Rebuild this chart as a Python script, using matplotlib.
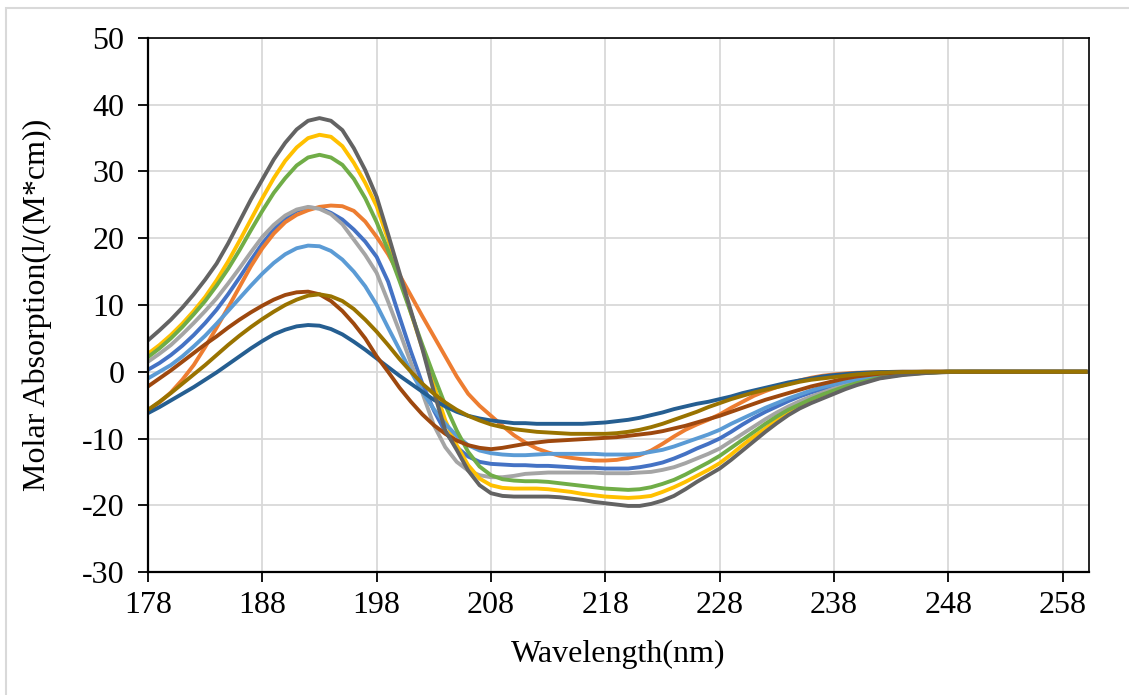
import matplotlib.pyplot as plt
from matplotlib.patches import Rectangle

plt.rcParams['font.family'] = ['Liberation Serif', 'DejaVu Serif']
plt.rcParams['axes.unicode_minus'] = False

# wavelengths (nm): 1 nm steps up to 240, then 2 nm steps
wavelength = list(range(178, 241)) + list(range(242, 262, 2))

# series
s_darkgray = [4.7, 6.2, 7.8, 9.6, 11.6, 13.8, 16.2, 19.2, 22.5, 25.8,
              28.8, 31.8, 34.3, 36.3, 37.6, 38, 37.6, 36.2, 33.5, 30.2,
              26.2, 20.6, 14.8, 9.1, 3.4, -3, -8.8, -11.7, -14.8, -17,
              -18.2, -18.6, -18.7, -18.7, -18.7, -18.7, -18.8, -19, -19.2, -19.5,
              -19.7, -19.9, -20.1, -20.1, -19.8, -19.3, -18.6, -17.6, -16.5, -15.5,
              -14.5, -13.2, -11.8, -10.4, -9, -7.7, -6.5, -5.5, -4.7, -4,
              -3.3, -2.6, -2,
              -1, -0.5, -0.2, -0.05, 0, 0, 0, 0, 0, 0]
s_yellow = [2.7, 4, 5.5, 7.2, 9.1, 11.2, 13.7, 16.5, 19.6, 22.8,
            26, 29, 31.6, 33.6, 35, 35.5, 35.2, 33.8, 31.3, 28.3,
            24.8, 19.8, 14.3, 8.8, 3.5, -2, -7.3, -11, -14, -16,
            -17, -17.4, -17.5, -17.5, -17.5, -17.6, -17.8, -18, -18.3, -18.5,
            -18.7, -18.8, -18.9, -18.8, -18.6, -18, -17.3, -16.5, -15.6, -14.7,
            -13.7, -12.4, -11, -9.7, -8.5, -7.2, -6.1, -5.2, -4.4, -3.7,
            -3, -2.4, -1.8,
            -0.9, -0.4, -0.15, 0, 0, 0, 0, 0, 0, 0]
s_green = [2.2, 3.5, 5, 6.7, 8.6, 10.6, 12.9, 15.4, 18.2, 21.2,
           24.1, 26.8, 29, 30.9, 32.1, 32.5, 32.1, 31, 28.9, 26,
           22.4, 18.2, 13.6, 8.8, 4, -0.6, -5, -8.8, -12, -14.2,
           -15.5, -16.1, -16.3, -16.4, -16.4, -16.5, -16.7, -16.9, -17.1, -17.3,
           -17.5, -17.6, -17.7, -17.6, -17.3, -16.8, -16.2, -15.4, -14.5, -13.6,
           -12.6, -11.4, -10.2, -9, -7.8, -6.7, -5.7, -4.9, -4.1, -3.4,
           -2.8, -2.2, -1.7,
           -0.9, -0.4, -0.15, 0, 0, 0, 0, 0, 0, 0]
s_gray = [1.5, 2.7, 4, 5.6, 7.3, 9.1, 11, 13.2, 15.5, 17.9,
          20.2, 22, 23.4, 24.3, 24.7, 24.4, 23.6, 22.1, 19.8, 17.5,
          14.8, 10.5, 6, 1.3, -3.2, -8, -11.3, -13.5, -14.8, -15.5,
          -15.8, -15.8, -15.6, -15.3, -15.2, -15.1, -15.1, -15.1, -15.1, -15.1,
          -15.2, -15.2, -15.2, -15.1, -15, -14.7, -14.3, -13.7, -13, -12.3,
          -11.5, -10.4, -9.3, -8.2, -7.1, -6.1, -5.2, -4.4, -3.7, -3.1,
          -2.5, -2, -1.5,
          -0.8, -0.35, -0.1, 0, 0, 0, 0, 0, 0, 0]
s_blue = [0.3, 1.3, 2.5, 3.9, 5.5, 7.3, 9.3, 11.6, 14.1, 16.7,
          19.2, 21.3, 23, 24.1, 24.6, 24.5, 23.8, 22.8, 21.3, 19.5,
          17.2, 13.5, 8.2, 3, -1.8, -5.8, -9, -11.3, -12.7, -13.5,
          -13.8, -13.9, -14, -14, -14.1, -14.1, -14.2, -14.3, -14.4, -14.4,
          -14.5, -14.5, -14.5, -14.3, -14, -13.6, -13, -12.3, -11.5, -10.8,
          -10, -9, -7.9, -6.9, -6, -5.2, -4.4, -3.7, -3.1, -2.6,
          -2.1, -1.7, -1.3,
          -0.7, -0.3, -0.1, 0, 0, 0, 0, 0, 0, 0]
s_lightblue = [-1, 0, 1, 2.3, 3.8, 5.4, 7.2, 9.1, 11, 12.9,
               14.7, 16.3, 17.6, 18.5, 18.9, 18.8, 18.1, 16.8, 15, 12.8,
               10, 6.6, 3.3, 0, -3, -5.6, -7.8, -9.6, -11, -11.8,
               -12.2, -12.4, -12.5, -12.5, -12.4, -12.3, -12.3, -12.3, -12.3, -12.3,
               -12.4, -12.4, -12.4, -12.3, -12, -11.7, -11.2, -10.6, -10, -9.4,
               -8.7, -7.8, -7, -6.2, -5.4, -4.7, -4, -3.4, -2.8, -2.3,
               -1.9, -1.5, -1.2,
               -0.6, -0.25, -0.1, 0, 0, 0, 0, 0, 0, 0]
s_orange = [-5.8, -4.6, -3.1, -1.2, 1, 3.7, 6.6, 9.6, 12.7, 15.8,
            18.5, 20.7, 22.4, 23.5, 24.2, 24.7, 24.9, 24.8, 24.1, 22.5,
            20.2, 17.6, 14.5, 11.4, 8.3, 5.3, 2.3, -0.7, -3.3, -5.1,
            -6.6, -8.1, -9.5, -10.6, -11.5, -12.1, -12.6, -12.9, -13.1, -13.3,
            -13.3, -13.2, -12.9, -12.5, -11.8, -10.8, -9.7, -8.7, -7.9, -7.2,
            -6.4, -5.4, -4.5, -3.6, -2.9, -2.3, -1.8, -1.3, -0.9, -0.6,
            -0.4, -0.25, -0.15,
            -0.05, 0, 0, 0, 0, 0, 0, 0, 0, 0]
s_darkorange = [-2.2, -1, 0.2, 1.5, 2.8, 4.1, 5.3, 6.6, 7.8, 8.9,
                9.9, 10.8, 11.5, 11.9, 12, 11.6, 10.6, 9.1, 7.2, 5,
                2.3, 0, -2.4, -4.5, -6.4, -8, -9.3, -10.3, -11, -11.4,
                -11.6, -11.4, -11.1, -10.8, -10.6, -10.4, -10.3, -10.2, -10.1, -10,
                -9.9, -9.8, -9.6, -9.4, -9.2, -8.9, -8.5, -8.1, -7.6, -7.1,
                -6.6, -6, -5.4, -4.8, -4.2, -3.7, -3.2, -2.7, -2.2, -1.8,
                -1.4, -1, -0.7,
                -0.3, -0.1, 0, 0, 0, 0, 0, 0, 0, 0]
s_darkyellow = [-5.7, -4.5, -3.2, -1.8, -0.4, 1, 2.5, 4, 5.4, 6.7,
                7.9, 9, 10, 10.8, 11.4, 11.6, 11.3, 10.6, 9.4, 7.8,
                6, 4, 1.9, 0, -1.8, -3.3, -4.6, -5.7, -6.6, -7.3,
                -7.9, -8.3, -8.6, -8.8, -9, -9.1, -9.2, -9.3, -9.3, -9.3,
                -9.3, -9.2, -9, -8.7, -8.3, -7.8, -7.2, -6.6, -6, -5.3,
                -4.7, -4.1, -3.6, -3.1, -2.7, -2.3, -1.9, -1.5, -1.2, -1,
                -0.8, -0.6, -0.4,
                -0.15, -0.05, 0, 0, 0, 0, 0, 0, 0, 0]
s_darkblue = [-6.2, -5.3, -4.3, -3.3, -2.3, -1.2, -0.1, 1.1, 2.3, 3.5,
              4.6, 5.6, 6.3, 6.8, 7, 6.9, 6.4, 5.6, 4.5, 3.3,
              2, 0.7, -0.6, -1.8, -3, -4.2, -5.2, -6, -6.6, -7,
              -7.3, -7.5, -7.7, -7.7, -7.8, -7.8, -7.8, -7.8, -7.8, -7.7,
              -7.6, -7.4, -7.2, -6.9, -6.5, -6.1, -5.6, -5.2, -4.8, -4.5,
              -4.1, -3.7, -3.2, -2.8, -2.4, -2, -1.6, -1.3, -1, -0.7,
              -0.5, -0.35, -0.2,
              -0.05, 0, 0, 0, 0, 0, 0, 0, 0, 0]

series = [
    (s_blue, '#4472C4'),
    (s_orange, '#ED7D31'),
    (s_gray, '#A5A5A5'),
    (s_yellow, '#FFC000'),
    (s_lightblue, '#5B9BD5'),
    (s_green, '#70AD47'),
    (s_darkblue, '#255E91'),
    (s_darkorange, '#9E480E'),
    (s_darkgray, '#636363'),
    (s_darkyellow, '#997300'),
]

xticks = [178, 188, 198, 208, 218, 228, 238, 248, 258]
yticks = [-30, -20, -10, 0, 10, 20, 30, 40, 50]

fig = plt.figure(figsize=(11.29, 6.95), dpi=100)
# light outer chart border
fig.patches.append(Rectangle((6 / 1129, -0.01), 1.1, 1 - 8 / 695 + 0.01, transform=fig.transFigure,
                             fill=False, edgecolor='#D9D9D9', linewidth=1.5))

ax = fig.add_axes([148 / 1129, 1 - 572 / 695, (1089 - 148) / 1129, (572 - 38) / 695])
for vals, col in series:
    ax.plot(wavelength, vals, color=col, linewidth=2.8, solid_joinstyle='round')

ax.set_xlim(178, 260.3)
ax.set_ylim(-30, 50)
ax.set_xticks(xticks)
ax.set_yticks(yticks)
ax.grid(True, color='#D9D9D9', linewidth=1.3)
ax.set_axisbelow(True)

for side in ['left', 'bottom']:
    ax.spines[side].set_linewidth(1.6)
for side in ['top', 'right']:
    ax.spines[side].set_linewidth(1.2)
ax.tick_params(direction='out', length=7, width=1.3, labelsize=23)
ax.tick_params(axis='x', pad=7)
ax.tick_params(axis='y', pad=10)

ax.set_xlabel('Wavelength(nm)', fontsize=23)
ax.set_ylabel('Molar Absorption(l/(M*cm))', fontsize=23)
ax.xaxis.set_label_coords(0.5, -0.128)
ax.yaxis.set_label_coords(-0.102, 0.5)

fig.savefig('out.png', dpi=100)
